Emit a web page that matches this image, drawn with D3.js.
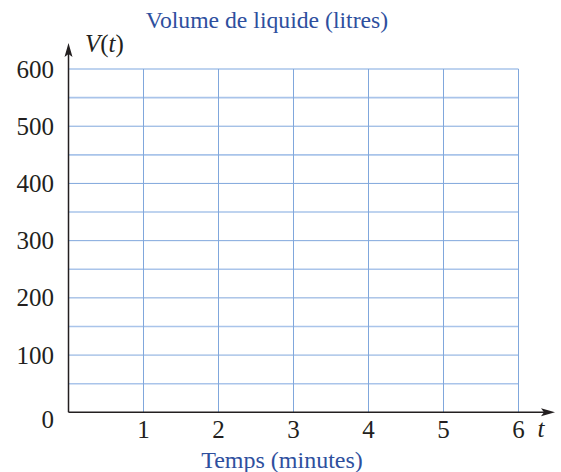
<!DOCTYPE html>
<html><head><meta charset="utf-8">
<script src="https://cdn.jsdelivr.net/npm/d3@7"></script>
<style>body{margin:0;background:#fff}svg{display:block}text{font-family:"Liberation Serif","Times New Roman",serif}</style>
</head><body><svg id="c" width="561" height="472"></svg>
<script>
const xTicks = [1, 2, 3, 4, 5, 6];
const yTicks = [0, 100, 200, 300, 400, 500, 600];
const yGrid = [50, 100, 150, 200, 250, 300, 350, 400, 450, 500, 550, 600];
const xDomain = [0, 6];
const yDomain = [0, 600];
const title = "Volume de liquide (litres)";
const xTitle = "Temps (minutes)";

const svg = d3.select("#c");
const x = d3.scaleLinear().domain(xDomain).range([68.5, 518.5]);
const y = d3.scaleLinear().domain(yDomain).range([412.3, 69]);
const gridColor = "#80a7dc";

// grid
svg.append("g").selectAll("line").data(yGrid).join("line")
  .attr("x1", x(0)).attr("x2", x(6))
  .attr("y1", d => y(d)).attr("y2", d => y(d))
  .attr("stroke", d => d % 100 === 0 && d !== 600 ? gridColor : "#a9c4ea")
  .attr("stroke-width", d => d % 100 === 0 && d !== 600 ? 1 : 1.6);
svg.append("g").selectAll("line").data(xTicks).join("line")
  .attr("x1", d => x(d)).attr("x2", d => x(d))
  .attr("y1", y(0)).attr("y2", y(600))
  .attr("stroke", gridColor).attr("stroke-width", 1);

// axes
const axisColor = "#231f20";
svg.append("line").attr("x1", x(0)).attr("x2", 548).attr("y1", y(0)).attr("y2", y(0))
  .attr("stroke", axisColor).attr("stroke-width", 1.5);
svg.append("path").attr("d", `M555,${y(0)} L541,${y(0)-4} L544,${y(0)} L541,${y(0)+4} Z`).attr("fill", axisColor);
svg.append("line").attr("x1", x(0)).attr("x2", x(0)).attr("y1", y(0)).attr("y2", 50)
  .attr("stroke", axisColor).attr("stroke-width", 1.5);
svg.append("path").attr("d", `M${x(0)},43 L${x(0)-4},57 L${x(0)},54 L${x(0)+4},57 Z`).attr("fill", axisColor);

// tick labels
svg.append("g").selectAll("text").data(yTicks).join("text")
  .attr("x", 54).attr("y", d => d === 0 ? y(d) + 16 : y(d) + 8.5)
  .attr("text-anchor", "end").attr("font-size", 25).attr("fill", axisColor)
  .text(d => d);
svg.append("g").selectAll("text").data(xTicks).join("text")
  .attr("x", d => x(d)).attr("y", 438)
  .attr("text-anchor", "middle").attr("font-size", 25).attr("fill", axisColor)
  .text(d => d);

// axis variable labels
svg.append("text").attr("x", 541).attr("y", 437).attr("text-anchor", "middle")
  .attr("font-size", 25).attr("font-style", "italic").attr("fill", axisColor).text("t");
const vt = svg.append("text").attr("x", 85).attr("y", 52).attr("font-size", 25).attr("fill", axisColor);
vt.append("tspan").attr("font-style", "italic").text("V");
vt.append("tspan").text("(");
vt.append("tspan").attr("font-style", "italic").text("t");
vt.append("tspan").text(")");

// titles
svg.append("text").attr("x", 267).attr("y", 28).attr("text-anchor", "middle")
  .attr("font-size", 23.7).attr("fill", "#2e4f9e").text(title);
svg.append("text").attr("x", 282).attr("y", 468).attr("text-anchor", "middle")
  .attr("font-size", 24).attr("fill", "#2e4f9e").text(xTitle);
</script></body></html>
